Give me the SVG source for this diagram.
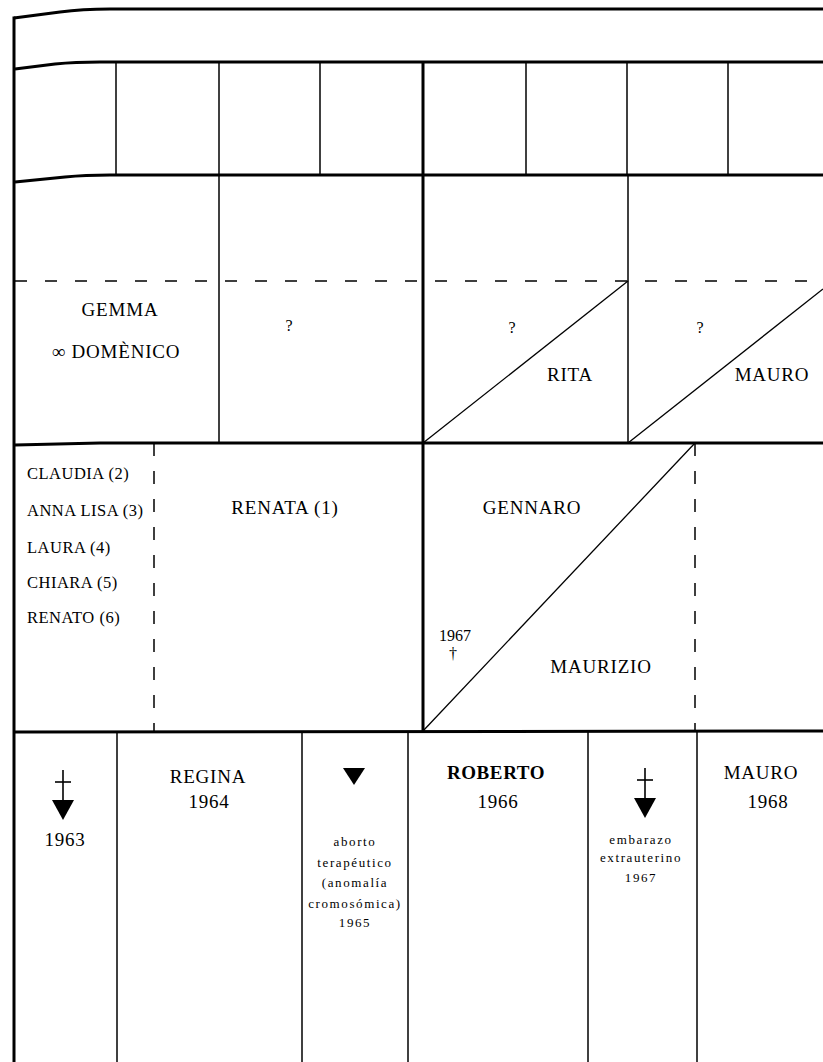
<svg xmlns="http://www.w3.org/2000/svg" width="823" height="1062" viewBox="0 0 823 1062">
<style>
.bg{fill:#fff}
.h{fill:none;stroke:#000;stroke-width:3}
.v{stroke:#000;stroke-width:1.5}
.vt{stroke:#000;stroke-width:3}
.d{stroke:#000;stroke-width:1.5;stroke-dasharray:12 18}
.dv{stroke:#000;stroke-width:1.5;stroke-dasharray:13 15}
.diag{stroke:#000;stroke-width:1.3}
text{font-family:"Liberation Serif","Times New Roman",serif;fill:#000}
.n{font-size:19px;letter-spacing:0.8px;text-anchor:middle}
.s{font-size:16.5px;letter-spacing:0.5px}
.b{font-size:19px;font-weight:bold;letter-spacing:0.6px;text-anchor:middle}
.sm{font-size:13px;letter-spacing:1.6px;text-anchor:middle}
.q{font-size:16px;text-anchor:middle}
.sym{fill:#000}
.symline{stroke:#000;stroke-width:1.6}
</style>
<rect class="bg" x="0" y="0" width="823" height="1062"/>
<g id="connectors">
  <path class="h" d="M14,18 L60,12 Q82,9 110,9 L823,9"/>
  <path class="h" d="M15,69 L55,64 Q75,62 100,62 L823,62"/>
  <path class="h" d="M15,182 L65,177 Q85,175 110,175 L823,175"/>
  <path class="h" d="M15,445 L100,443 L823,443"/>
  <path class="h" d="M15,732 L823,731"/>
  <line class="vt" x1="14" y1="16.5" x2="14" y2="1062"/>
  <line class="v" x1="116" y1="62" x2="116" y2="175"/>
  <line class="v" x1="219" y1="62" x2="219" y2="443"/>
  <line class="v" x1="320" y1="62" x2="320" y2="175"/>
  <line class="vt" x1="423" y1="62" x2="423" y2="731"/>
  <line class="v" x1="526" y1="62" x2="526" y2="175"/>
  <line class="v" x1="627" y1="62" x2="627" y2="175"/>
  <line class="v" x1="728" y1="62" x2="728" y2="175"/>
  <line class="v" x1="628" y1="175" x2="628" y2="443"/>
  <line class="d" x1="15" y1="281" x2="823" y2="281"/>
  <line class="diag" x1="423" y1="443" x2="628" y2="281"/>
  <line class="diag" x1="628" y1="443" x2="823" y2="289"/>
  <line class="dv" x1="154" y1="443" x2="154" y2="731"/>
  <line class="dv" x1="695" y1="443" x2="695" y2="731"/>
  <line class="diag" x1="423" y1="731" x2="695" y2="443"/>
  <line class="v" x1="117" y1="731" x2="117" y2="1062"/>
  <line class="v" x1="302" y1="731" x2="302" y2="1062"/>
  <line class="v" x1="408" y1="731" x2="408" y2="1062"/>
  <line class="v" x1="588" y1="731" x2="588" y2="1062"/>
  <line class="v" x1="697" y1="731" x2="697" y2="1062"/>
</g>
<g id="gemma">
  <text class="n" x="120" y="316">GEMMA</text>
  <text class="n" x="116" y="358">∞ DOMÈNICO</text>
</g>
<g id="unknown1"><text class="q" x="289" y="331">?</text></g>
<g id="unknown2"><text class="q" x="512" y="333">?</text></g>
<g id="rita"><text class="n" x="570" y="381">RITA</text></g>
<g id="unknown3"><text class="q" x="700" y="333">?</text></g>
<g id="mauro-parent"><text class="n" x="772" y="381">MAURO</text></g>
<g id="siblings">
  <text class="s" x="27" y="479">CLAUDIA (2)</text>
  <text class="s" x="27" y="516">ANNA LISA (3)</text>
  <text class="s" x="27" y="553">LAURA (4)</text>
  <text class="s" x="27" y="588">CHIARA (5)</text>
  <text class="s" x="27" y="623">RENATO (6)</text>
</g>
<g id="renata"><text class="n" x="285" y="514">RENATA (1)</text></g>
<g id="gennaro"><text class="n" x="532" y="514">GENNARO</text></g>
<g id="death1967">
  <text class="q" x="455" y="641">1967</text>
  <text class="q" x="453" y="659">†</text>
</g>
<g id="maurizio"><text class="n" x="601" y="673">MAURIZIO</text></g>
<g id="child1963">
  <line class="symline" x1="63" y1="770" x2="63" y2="802"/>
  <line class="symline" x1="55" y1="782" x2="71" y2="782"/>
  <polygon class="sym" points="52,800 74,800 63,820"/>
  <text class="n" x="65" y="846">1963</text>
</g>
<g id="regina">
  <text class="n" x="208" y="783">REGINA</text>
  <text class="n" x="209" y="808">1964</text>
</g>
<g id="aborto">
  <polygon class="sym" points="343,768 365,768 354,785"/>
  <text class="sm" x="355" y="846">aborto</text>
  <text class="sm" x="355" y="867">terapéutico</text>
  <text class="sm" x="355" y="887">(anomalía</text>
  <text class="sm" x="355" y="908">cromosómica)</text>
  <text class="sm" x="355" y="927">1965</text>
</g>
<g id="roberto">
  <text class="b" x="496" y="779">ROBERTO</text>
  <text class="n" x="498" y="808">1966</text>
</g>
<g id="embarazo">
  <line class="symline" x1="645" y1="768" x2="645" y2="800"/>
  <line class="symline" x1="637" y1="780" x2="653" y2="780"/>
  <polygon class="sym" points="634,798 656,798 645,818"/>
  <text class="sm" x="641" y="844">embarazo</text>
  <text class="sm" x="641" y="862">extrauterino</text>
  <text class="sm" x="641" y="882">1967</text>
</g>
<g id="mauro">
  <text class="n" x="761" y="779">MAURO</text>
  <text class="n" x="768" y="808">1968</text>
</g>
</svg>
